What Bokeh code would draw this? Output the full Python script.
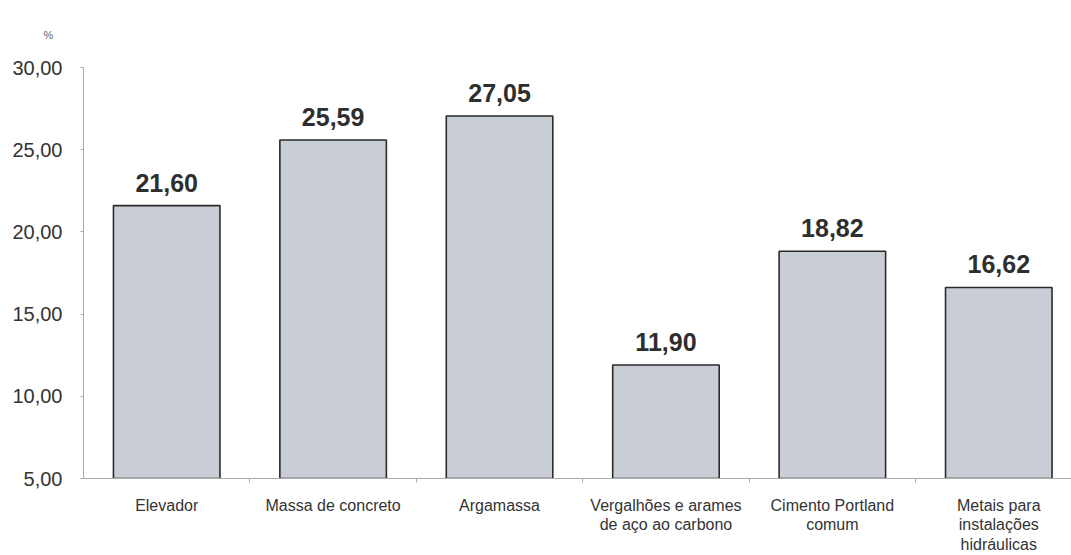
from bokeh.plotting import figure
from bokeh.models import ColumnDataSource, Range1d, FixedTicker
from bokeh.core.properties import value
from bokeh.embed import file_html
from bokeh.resources import INLINE

categories = ["Elevador", "Massa de concreto", "Argamassa",
              "Vergalhões e arames\nde aço ao carbono", "Cimento Portland\ncomum",
              "Metais para\ninstalações\nhidráulicas"]
values = [21.60, 25.59, 27.05, 11.90, 18.82, 16.62]
y_ticks = [5, 10, 15, 20, 25, 30]
y_tick_labels = ["5,00", "10,00", "15,00", "20,00", "25,00", "30,00"]
unit_label = "%"

xs = list(range(len(categories)))
labels = [f"{v:.2f}".replace(".", ",") for v in values]
src = ColumnDataSource(dict(x=xs, top=values, label=labels))

p = figure(width=1071, height=555, output_backend="svg", toolbar_location=None,
           x_range=Range1d(-0.5, 5.437), y_range=Range1d(5, 30),
           min_border_left=83, min_border_right=0, min_border_top=67, min_border_bottom=77,
           title=unit_label)
p.outline_line_color = None
p.background_fill_color = "white"
p.border_fill_color = "white"
p.xgrid.visible = False
p.ygrid.visible = False

p.title.align = "left"
p.title.offset = -40
p.title.standoff = 53
p.title.text_font = "Liberation Sans"
p.title.text_font_style = "normal"
p.title.text_font_size = "11px"
p.title.text_color = "#666666"

p.vbar(x="x", top="top", bottom=5, width=0.64, source=src,
       fill_color="#c9cdd6", line_color="#2b2b2b", line_width=1.6)

p.text(x="x", y="top", text="label", source=src, text_align="center",
       text_baseline="bottom", y_offset=-14,
       text_font=value("Liberation Sans"), text_font_style="bold",
       text_font_size="25px", text_color="#2e2e2e")

# y axis
p.yaxis.ticker = FixedTicker(ticks=y_ticks)
p.yaxis.major_label_overrides = {t: s for t, s in zip(y_ticks, y_tick_labels)}
p.yaxis.major_label_text_font = "Liberation Sans"
p.yaxis.major_label_text_font_size = "20px"
p.yaxis.major_label_text_color = "#333333"
p.yaxis.major_label_standoff = 18
p.yaxis.major_tick_out = 3
p.yaxis.major_tick_in = 0
p.yaxis.minor_tick_out = 0
p.yaxis.minor_tick_in = 0
p.yaxis.axis_line_color = "#aaaaaa"
p.yaxis.major_tick_line_color = "#aaaaaa"

# x axis
p.xaxis.ticker = FixedTicker(ticks=xs, minor_ticks=[i + 0.5 for i in xs])
p.xaxis.major_label_overrides = {i: c for i, c in zip(xs, categories)}
p.xaxis.major_label_text_font = "Liberation Sans"
p.xaxis.major_label_text_font_size = "16px"
p.xaxis.major_label_text_line_height = 1.15
p.xaxis.major_label_text_color = "#333333"
p.xaxis.major_label_standoff = 14
p.xaxis.major_tick_out = 0
p.xaxis.major_tick_in = 0
p.xaxis.minor_tick_out = 4
p.xaxis.minor_tick_in = 0
p.xaxis.minor_tick_line_color = "#aaaaaa"
p.xaxis.axis_line_color = "#aaaaaa"

open("out.html", "w").write(file_html(p, INLINE))
